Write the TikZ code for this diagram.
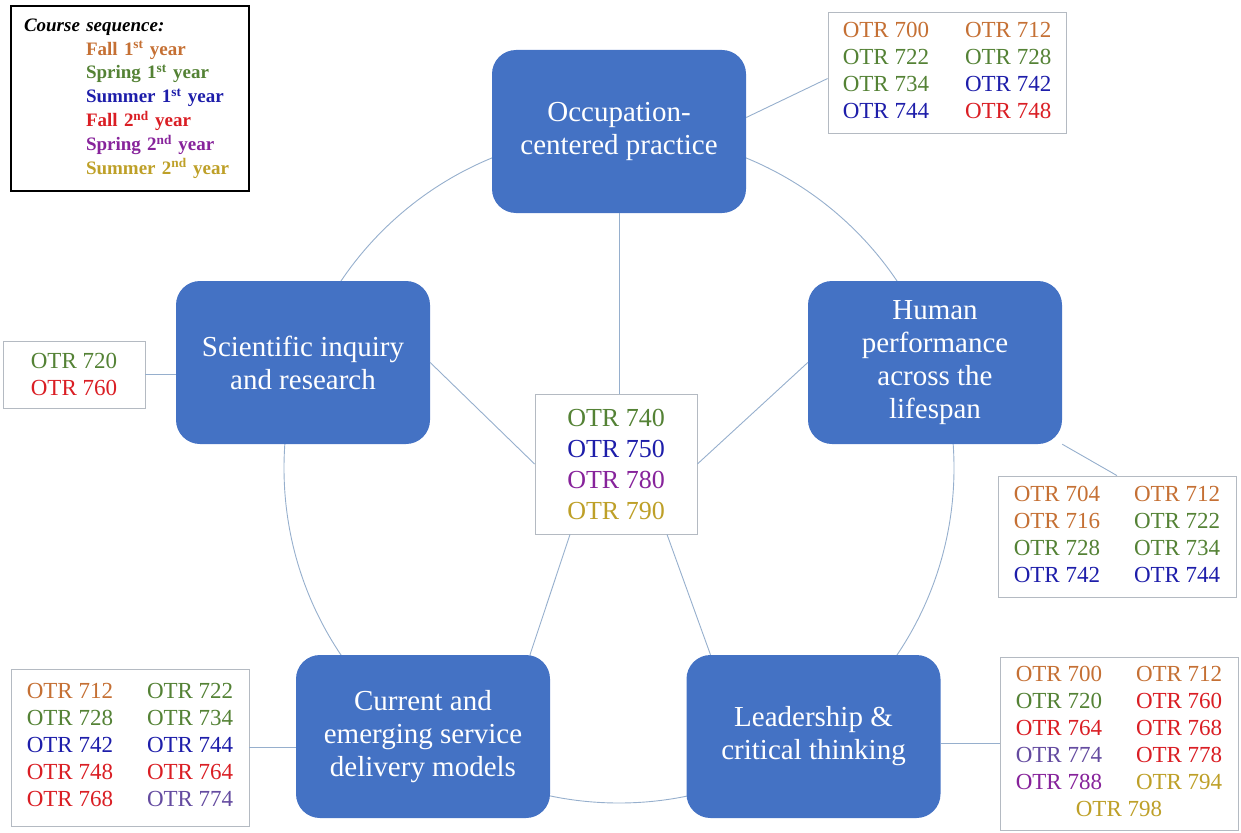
\documentclass[tikz,border=0pt]{standalone}
\usepackage{fontspec}
\setmainfont{Liberation Serif}
\usetikzlibrary{calc}

\definecolor{fallone}{RGB}{197,112,52}
\definecolor{springone}{RGB}{84,130,53}
\definecolor{summerone}{RGB}{30,30,170}
\definecolor{falltwo}{RGB}{218,30,36}
\definecolor{springtwo}{RGB}{135,35,155}
\definecolor{springtwob}{RGB}{100,75,160}
\definecolor{summertwo}{RGB}{190,160,40}
\definecolor{topicblue}{RGB}{68,114,196}
\definecolor{ringblue}{RGB}{150,175,205}
\definecolor{listgray}{RGB}{180,186,194}

\newcommand{\cfa}{\color{fallone}}
\newcommand{\csa}{\color{springone}}
\newcommand{\csu}{\color{summerone}}
\newcommand{\cfb}{\color{falltwo}}
\newcommand{\csb}{\color{springtwo}}
\newcommand{\csv}{\color{springtwob}}
\newcommand{\csub}{\color{summertwo}}

\tikzset{
  topic/.style={fill=topicblue, rounded corners=24pt, minimum width=254pt,
    minimum height=163pt, inner sep=0pt, text=white, align=center,
    font=\fontsize{29}{33}\selectfont},
  otrlist/.style={draw=listgray, line width=0.8pt, fill=white, inner sep=0pt,
    font=\fontsize{23}{27}\selectfont},
  ring/.style={draw=ringblue, line width=0.9pt}
}

\begin{document}
\begin{tikzpicture}[x=1pt,y=-1pt]
  \useasboundingbox (0,0) rectangle (1241,832);

  % Outer ring behind the topic boxes
  \coordinate (hub) at (619,468);
  \draw[ring] (hub) circle[radius=335pt];

  % Topic boxes
  \node[topic] (occ) at (619,131.5) {Occupation-\\centered practice};
  \node[topic] (hum) at (935,362.5) {Human\\performance\\across the\\lifespan};
  \node[topic] (ldr) at (813.5,736.5) {Leadership \&\\critical thinking};
  \node[topic] (cur) at (423,736.5) {Current and\\emerging service\\delivery models};
  \node[topic] (sci) at (303,362.5) {Scientific inquiry\\and research};

  % Centre box
  \node[otrlist, minimum width=162pt, minimum height=140pt, align=center,
    font=\fontsize{26}{31}\selectfont] (ctr) at (616,464)
    {\csa OTR 740\\ \csu OTR 750\\ \csb OTR 780\\ \csub OTR 790};

  % Spokes
  \draw[ring] (occ.south) -- (occ.south |- ctr.north);
  \draw[ring] (ctr.east) -- (hum.west);
  \draw[ring] (sci.east) -- (ctr.west);
  \draw[ring] ([xshift=-46pt]ctr.south) -- ([xshift=107pt]cur.north);
  \draw[ring] ([xshift=51pt]ctr.south) -- ([xshift=-103pt]ldr.north);

  % Course lists
  \node[otrlist, minimum width=238pt, minimum height=121pt] (occlist) at (947,72.5)
    {\begin{tabular}{@{}l@{\hspace{36pt}}l@{}}
      \cfa OTR 700 & \cfa OTR 712\\
      \csa OTR 722 & \csa OTR 728\\
      \csa OTR 734 & \csu OTR 742\\
      \csu OTR 744 & \cfb OTR 748
    \end{tabular}};
  \node[otrlist, minimum width=238pt, minimum height=121pt] (humlist) at (1117,536.5)
    {\begin{tabular}{@{}l@{\hspace{34pt}}l@{}}
      \cfa OTR 704 & \cfa OTR 712\\
      \cfa OTR 716 & \csa OTR 722\\
      \csa OTR 728 & \csa OTR 734\\
      \csu OTR 742 & \csu OTR 744
    \end{tabular}};
  \node[otrlist, minimum width=238pt, minimum height=173pt] (ldrlist) at (1119,743.5)
    {\begin{tabular}{@{}l@{\hspace{34pt}}l@{}}
      \cfa OTR 700 & \cfa OTR 712\\
      \csa OTR 720 & \cfb OTR 760\\
      \cfb OTR 764 & \cfb OTR 768\\
      \csv OTR 774 & \cfb OTR 778\\
      \csb OTR 788 & \csub OTR 794\\
      \multicolumn{2}{c}{\csub OTR 798}
    \end{tabular}};
  \node[otrlist, minimum width=238pt, minimum height=157pt] (curlist) at (130,747.5)
    {\begin{tabular}{@{}l@{\hspace{34pt}}l@{}}
      \cfa OTR 712 & \csa OTR 722\\
      \csa OTR 728 & \csa OTR 734\\
      \csu OTR 742 & \csu OTR 744\\
      \cfb OTR 748 & \cfb OTR 764\\
      \cfb OTR 768 & \csv OTR 774
    \end{tabular}};
  \node[otrlist, minimum width=142pt, minimum height=67pt, align=center] (scilist) at (74,374.5)
    {\csa OTR 720\\ \cfb OTR 760};

  % List connectors
  \draw[ring] ([yshift=14pt]occ.east) -- ([yshift=-6pt]occlist.west);
  \draw[ring] (hum.south east) -- (humlist.north);
  \draw[ring] (ldr.east |- ldrlist.west) -- (ldrlist.west);
  \draw[ring] (curlist.east) -- (curlist.east -| cur.west);
  \draw[ring] (scilist.east) -- (scilist.east -| sci.west);

  % Legend
  \node[draw=black, line width=2pt, anchor=north west, minimum width=238pt,
    minimum height=185pt, text width=212pt, inner xsep=13pt, align=left,
    font=\fontsize{19}{23.8}\selectfont\bfseries] (legend) at (10,5)
    {\textit{Course sequence:}\\
     \hspace*{62pt}{\cfa Fall 1\textsuperscript{st} year}\\
     \hspace*{62pt}{\csa Spring 1\textsuperscript{st} year}\\
     \hspace*{62pt}{\csu Summer 1\textsuperscript{st} year}\\
     \hspace*{62pt}{\cfb Fall 2\textsuperscript{nd} year}\\
     \hspace*{62pt}{\csb Spring 2\textsuperscript{nd} year}\\
     \hspace*{62pt}{\csub Summer 2\textsuperscript{nd} year}};
\end{tikzpicture}
\end{document}
